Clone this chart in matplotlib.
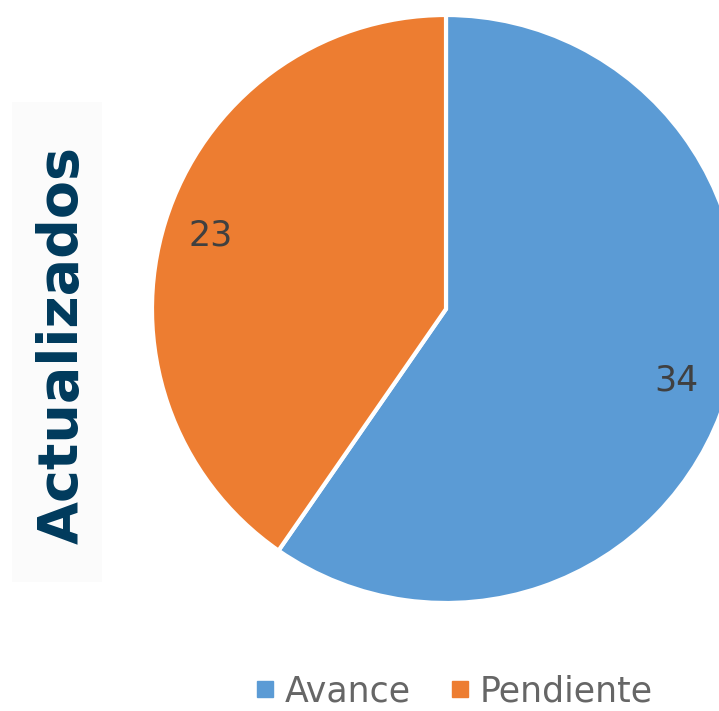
import matplotlib
matplotlib.use("Agg")
import numpy as np
import matplotlib.pyplot as plt
from matplotlib.patches import Rectangle
from matplotlib.lines import Line2D

categories = ["Avance", "Pendiente"]
values = [34, 23]
colors = ["#5B9BD5", "#ED7D31"]
title = "Actualizados"

W, H = 719, 711
fig = plt.figure(figsize=(W / 100, H / 100), dpi=100)
ax = fig.add_axes([0, 0, 1, 1])

# faint panel behind title
ax.add_patch(Rectangle((12, H - 582), 90, 480, color="#fbfbfb", zorder=0, lw=0))

cx, cy, r = 446, H - 309, 294
wedges, _ = ax.pie(values, colors=colors, startangle=90, counterclock=False,
                   center=(cx, cy), radius=r, frame=True,
                   wedgeprops=dict(edgecolor="white", linewidth=3))
ax.set_xlim(0, W)
ax.set_ylim(0, H)
ax.set_aspect("equal")
ax.axis("off")

label_dist = [0.82, 0.84]
for w, v, d in zip(wedges, values, label_dist):
    ang = np.deg2rad((w.theta1 + w.theta2) / 2)
    ax.text(cx + d * r * np.cos(ang), cy + d * r * np.sin(ang), str(v),
            ha="center", va="center", fontsize=25, color="#404040")

ax.text(63, H - 345, title, rotation=90, ha="center", va="center",
        fontsize=40, fontweight="bold", color="#003A5C", family="DejaVu Sans")

handles = [Line2D([0], [0], marker="s", linestyle="none", markersize=11,
                  markerfacecolor=c, markeredgecolor=c) for c in colors]
leg = ax.legend(handles, categories, loc="center", bbox_to_anchor=(455 / W, 20 / H),
                ncol=2, frameon=False, fontsize=25, handletextpad=0.35,
                columnspacing=1.2, labelcolor="#666666", handlelength=0.45)

fig.savefig("out.png", dpi=100)
